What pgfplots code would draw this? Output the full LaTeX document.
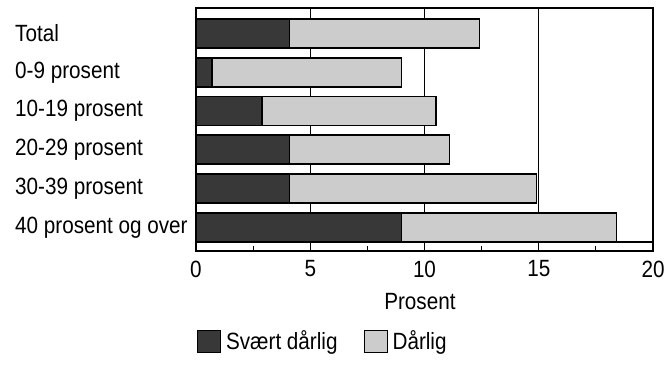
\documentclass[border=0pt]{standalone}
\usepackage{fontspec}
\setmainfont{Liberation Sans}[FakeStretch=0.88]
\usepackage{pgfplots}
\pgfplotsset{compat=1.18}
\begin{document}
\fontsize{23.5bp}{27bp}\selectfont
\begin{tikzpicture}
\useasboundingbox (0,0) rectangle (669bp,366bp);
\begin{axis}[
  at={(196bp,115bp)}, anchor=south west,
  width=457bp, height=243bp, scale only axis,
  xbar stacked,
  bar width=29bp,
  xmin=0, xmax=20,
  ymin=-0.612, ymax=5.659,
  xtick={0,5,10,15,20},
  minor x tick num=1,
  xtick pos=bottom,
  tick align=inside,
  major tick length=0pt,
  minor tick length=5bp,
  minor tick style={line width=1.2bp, black},
  xmajorgrids,
  major grid style={line width=1.4bp, black},
  ytick={0,1,2,3,4,5},
  yticklabels={40 prosent og over,30-39 prosent,20-29 prosent,10-19 prosent,0-9 prosent,Total},
  ytick style={draw=none},
  yticklabel style={anchor=west, inner sep=0pt, xshift=-181bp},
  xticklabel style={anchor=center, inner sep=0pt, yshift=-18bp},
  /pgf/number format/assume math mode=true,
  extra y ticks={-0.379},
  extra y tick labels={},
  extra y tick style={grid=major, major grid style={line width=1.3bp, black}, tick style={draw=none}},
  axis line style={line width=1.4bp, black},
  xlabel={Prosent},
  xlabel style={at={(axis description cs:0.49,-0.206)}, anchor=center, inner sep=0pt},
  legend columns=2,
  legend style={at={(axis description cs:0.002,-0.374)}, anchor=west, draw=none, inner sep=0pt,
    nodes={inner sep=2bp},
    /tikz/every odd column/.append style={column sep=3bp},
    /tikz/every even column/.append style={column sep=24bp}},
  legend image code/.code={\draw[#1, line width=1bp] (0bp,-11bp) rectangle (23bp,11bp);},
]
\addplot[draw=black, line width=1.6bp, fill=black!78] coordinates {(9.0,0) (4.1,1) (4.1,2) (2.9,3) (0.7,4) (4.1,5)};
\addplot[draw=black, line width=1.6bp, fill=black!20] coordinates {(9.4,0) (10.8,1) (7.0,2) (7.6,3) (8.3,4) (8.3,5)};
\legend{Svært dårlig, Dårlig}
\end{axis}
\end{tikzpicture}
\end{document}
